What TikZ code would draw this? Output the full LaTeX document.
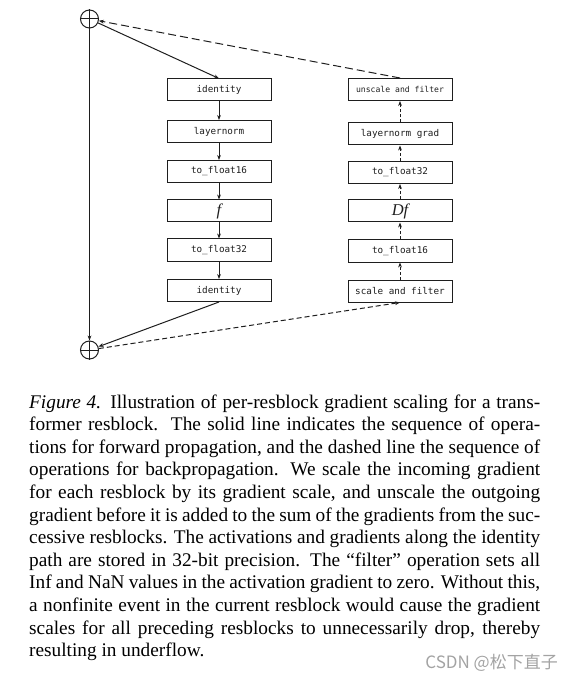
\documentclass[tikz,border=0pt]{standalone}
\usepackage{fontspec}
\setmainfont{Liberation Serif}
\setmonofont{DejaVu Sans Mono}
\newfontfamily\cjkwm{Noto Sans CJK SC}
\usetikzlibrary{arrows.meta}
\definecolor{ink}{HTML}{1E1E1E}
\definecolor{wm}{HTML}{A3A3A3}
\begin{document}
\begin{tikzpicture}[x=1pt,y=-1pt,
  opbox/.style={draw=ink,line width=1pt,minimum width=104pt,minimum height=22pt,inner sep=0pt,
    font=\fontsize{9.3}{10}\ttfamily,text=ink},
  smallbox/.style={opbox,font=\fontsize{8.1}{9}\ttfamily},
  mathbox/.style={opbox,font=\fontsize{16.5}{16}\selectfont\itshape},
  sumnode/.style={circle,draw=ink,line width=1pt,minimum size=18pt,inner sep=0pt},
  fwd/.style={draw=ink,line width=1pt,-{Stealth[length=5pt,width=3.8pt]}},
  bwdlong/.style={draw=ink,line width=1pt,dash pattern=on 8pt off 4pt,-{Stealth[length=5pt,width=3.8pt]}},
  bwd/.style={draw=ink,line width=1pt,dash pattern=on 5pt off 3pt,-{Stealth[length=5pt,width=3.8pt]}},
  bwdshort/.style={draw=ink,line width=1pt,dash pattern=on 3pt off 2pt,-{Stealth[length=5pt,width=3.8pt]}},
  capline/.style={anchor=base west,inner sep=0pt,font=\fontsize{19.3}{22}\selectfont}
]
\useasboundingbox (0,0) rectangle (575,684);

% sum nodes
\node[sumnode] (top) at (89.5,19) {};
\node[sumnode] (bot) at (89.5,350) {};
\draw[ink,line width=1pt] (top.north) -- (top.south) (top.west) -- (top.east);
\draw[ink,line width=1pt] (bot.north) -- (bot.south) (bot.west) -- (bot.east);

% forward boxes
\node[opbox] (id1) at (219,90) {identity};
\node[opbox] (ln)  at (219,131.5) {layernorm};
\node[opbox] (tf16) at (219,171.5) {to\_float16};
\node[mathbox] (f) at (219,211) {f};
\node[opbox] (tf32) at (219,250) {to\_float32};
\node[opbox] (id2) at (219,290.5) {identity};

% backward boxes
\node[smallbox] (us) at (400,89.5) {unscale and filter};
\node[opbox] (lng) at (400,134) {layernorm grad};
\node[opbox] (btf32) at (400,172.5) {to\_float32};
\node[mathbox] (df) at (400,211) {Df};
\node[opbox] (btf16) at (400,251) {to\_float16};
\node[opbox] (sf) at (400,291) {scale and filter};

% forward connectors
\draw[fwd] (top) -- (id1.north);
\draw[fwd] (top) -- (bot);
\draw[fwd] (id1) -- (ln);
\draw[fwd] (ln) -- (tf16);
\draw[fwd] (tf16) -- (f);
\draw[fwd] (f) -- (tf32);
\draw[fwd] (tf32) -- (id2);
\draw[fwd] (id2.south) -- (bot);

% backward connectors
\draw[bwd] (bot) -- (sf.south);
\draw[bwdshort] (sf) -- (btf16);
\draw[bwdshort] (btf16) -- (df);
\draw[bwdshort] (df) -- (btf32);
\draw[bwdshort] (btf32) -- (lng);
\draw[bwdshort] (lng) -- (us);
\draw[bwdlong] (us.north) -- (top);

% caption
\node[capline] (c1) at (29,408) {\makebox[511pt][s]{\textit{Figure 4.} Illustration of per-resblock gradient scaling for a trans-}};
\node[capline] (c2) at (29,430.6) {\makebox[511pt][s]{former resblock.\ \ The solid line indicates the sequence of opera-}};
\node[capline] (c3) at (29,453.2) {\makebox[511pt][s]{tions for forward propagation, and the dashed line the sequence of}};
\node[capline] (c4) at (29,475.8) {\makebox[511pt][s]{operations for backpropagation. We scale the incoming gradient}};
\node[capline] (c5) at (29,498.4) {\makebox[511pt][s]{for each resblock by its gradient scale, and unscale the outgoing}};
\node[capline] (c6) at (29,521) {\makebox[511pt][s]{gradient before it is added to the sum of the gradients from the suc-}};
\node[capline] (c7) at (29,543.6) {\makebox[511pt][s]{cessive resblocks. The activations and gradients along the identity}};
\node[capline] (c8) at (29,566.2) {\makebox[511pt][s]{path are stored in 32-bit precision. The “filter” operation sets all}};
\node[capline] (c9) at (29,588.8) {\makebox[511pt][s]{Inf and NaN values in the activation gradient to zero. Without this,}};
\node[capline] (c10) at (29,611.4) {\makebox[511pt][s]{a nonfinite event in the current resblock would cause the gradient}};
\node[capline] (c11) at (29,634) {\makebox[511pt][s]{scales for all preceding resblocks to unnecessarily drop, thereby}};
\node[capline] (c12) at (29,656.6) {resulting in underflow.};

% watermark
\node[anchor=base east,inner sep=0pt,text=wm,font=\cjkwm\fontsize{17}{17}\selectfont] (wmk) at (558,668) {CSDN @松下直子};
\end{tikzpicture}
\end{document}
